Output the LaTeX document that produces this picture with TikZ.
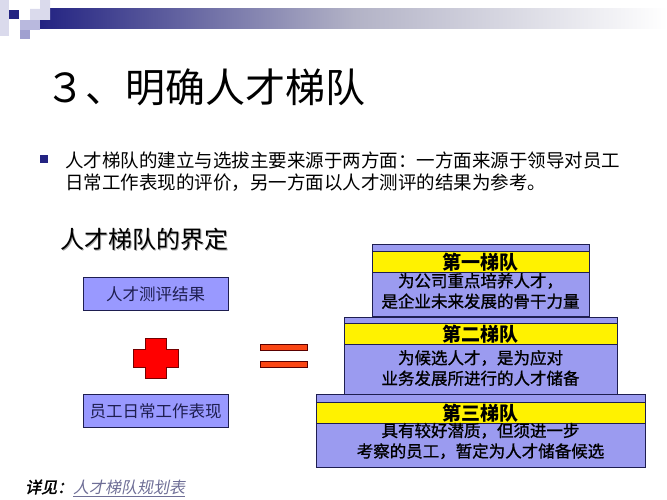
\documentclass[tikz,border=0pt]{standalone}
\usepackage{fontspec}
\setmainfont{Noto Sans CJK SC}
\newfontfamily\slfont[FakeSlant=0.2]{Noto Sans CJK SC}
\newfontfamily\slbffont[FakeSlant=0.2,FakeBold=2]{Noto Sans CJK SC}
\newfontfamily\tierfont[FakeBold=1]{Noto Sans CJK SC}
\definecolor{lav}{RGB}{153,153,255}
\definecolor{tierlav}{RGB}{155,155,240}
\definecolor{navyline}{RGB}{30,30,80}
\definecolor{barnavy}{RGB}{35,35,130}
\definecolor{sqlight}{RGB}{218,218,236}
\definecolor{sqmid}{RGB}{185,185,222}
\definecolor{sqdark}{RGB}{160,160,208}
\definecolor{eqred}{RGB}{250,70,20}
\definecolor{linkgray}{RGB}{110,110,150}
\tikzset{
	lavbox/.style={fill=lav,draw=navyline,line width=1pt,minimum width=145,minimum height=33,inner sep=0,font=\fontsize{16.5}{16.5}\selectfont,text=navyline},
	tierbox/.style={fill=tierlav,draw=navyline,line width=1pt,anchor=north west,inner sep=0},
	band/.style={fill=yellow,draw=navyline,line width=0.8pt,anchor=north west,inner sep=0,minimum height=21,font=\fontsize{19}{19}\selectfont\bfseries},
	tiertext/.style={align=center,inner sep=0,font=\fontsize{16.5}{20.5}\selectfont\tierfont},
	cjktext/.style={anchor=west,inner sep=0,font=\fontsize{18.5}{18.5}\selectfont},
}
\begin{document}
\begin{tikzpicture}[x=1pt,y=-1pt]
	\useasboundingbox (0,0) rectangle (667,500);
	% header bar
	\shade[left color=barnavy,right color=white,middle color={rgb,255:red,178;green,178;blue,198}] (40,9) rectangle (667,29);
	\fill[sqlight] (0,0) rectangle (9,36);
	\fill[sqlight] (30,9) rectangle (50,20) (40,0) rectangle (50,9);
	\fill[barnavy] (9,10) rectangle (19,19);
	\fill[sqmid] (20,20) rectangle (40,30);
	\fill[sqdark] (20,30) rectangle (30,39);
	\node[anchor=west,inner sep=0,font=\fontsize{40}{40}\selectfont] (title) at (45,87) {３、明确人才梯队};
	\fill[barnavy] (40,155) rectangle (48,163);
	\node[cjktext] (intro1) at (65,160) {人才梯队的建立与选拔主要来源于两方面：一方面来源于领导对员工};
	\node[cjktext] (intro2) at (65,183) {日常工作表现的评价，另一方面以人才测评的结果为参考。};
	\node[anchor=west,inner sep=0,font=\fontsize{24}{24}\selectfont,text=gray!70] (defshadow) at (61.5,240.5) {人才梯队的界定};
	\node[anchor=west,inner sep=0,font=\fontsize{24}{24}\selectfont] (defn) at (60,239) {人才梯队的界定};
	\node[lavbox] (evalbox) at (155.5,294) {人才测评结果};
	\node[lavbox] (workbox) at (155.5,411) {员工日常工作表现};
	\filldraw[fill=red,draw=red!45!black,line width=0.8pt] (145,338) -- (166,338) -- (166,349) -- (178,349) -- (178,367) -- (166,367) -- (166,378) -- (145,378) -- (145,367) -- (133,367) -- (133,349) -- (145,349) -- cycle;
	\filldraw[fill=eqred,draw=red!35!black,line width=0.8pt] (260,344) rectangle (307,350) (260,361) rectangle (307,367);
	% tiers
	\node[tierbox,minimum width=217,minimum height=72] (tier1) at (372,244) {};
	\node[band,minimum width=217] (band1) at (372,251) {第一梯队};
	\node[tiertext] (text1) at (480.5,291) {为公司重点培养人才，\\是企业未来发展的骨干力量};
	\node[tierbox,minimum width=273,minimum height=77] (tier2) at (344,317) {};
	\node[band,minimum width=273] (band2) at (344,323) {第二梯队};
	\node[tiertext] (text2) at (480.5,368) {为候选人才，是为应对\\业务发展所进行的人才储备};
	\node[tierbox,minimum width=329,minimum height=73] (tier3) at (316,394) {};
	\node[band,minimum width=329] (band3) at (316,402) {第三梯队};
	\node[tiertext] (text3) at (480.5,441) {具有较好潜质，但须进一步\\考察的员工，暂定为人才储备候选};
	\node[anchor=west,inner sep=0,font=\fontsize{16}{16}\selectfont] (seealso) at (25,488) {{\slbffont 详见：}{\slfont\color{linkgray}\underline{人才梯队规划表}}};
\end{tikzpicture}
\end{document}
